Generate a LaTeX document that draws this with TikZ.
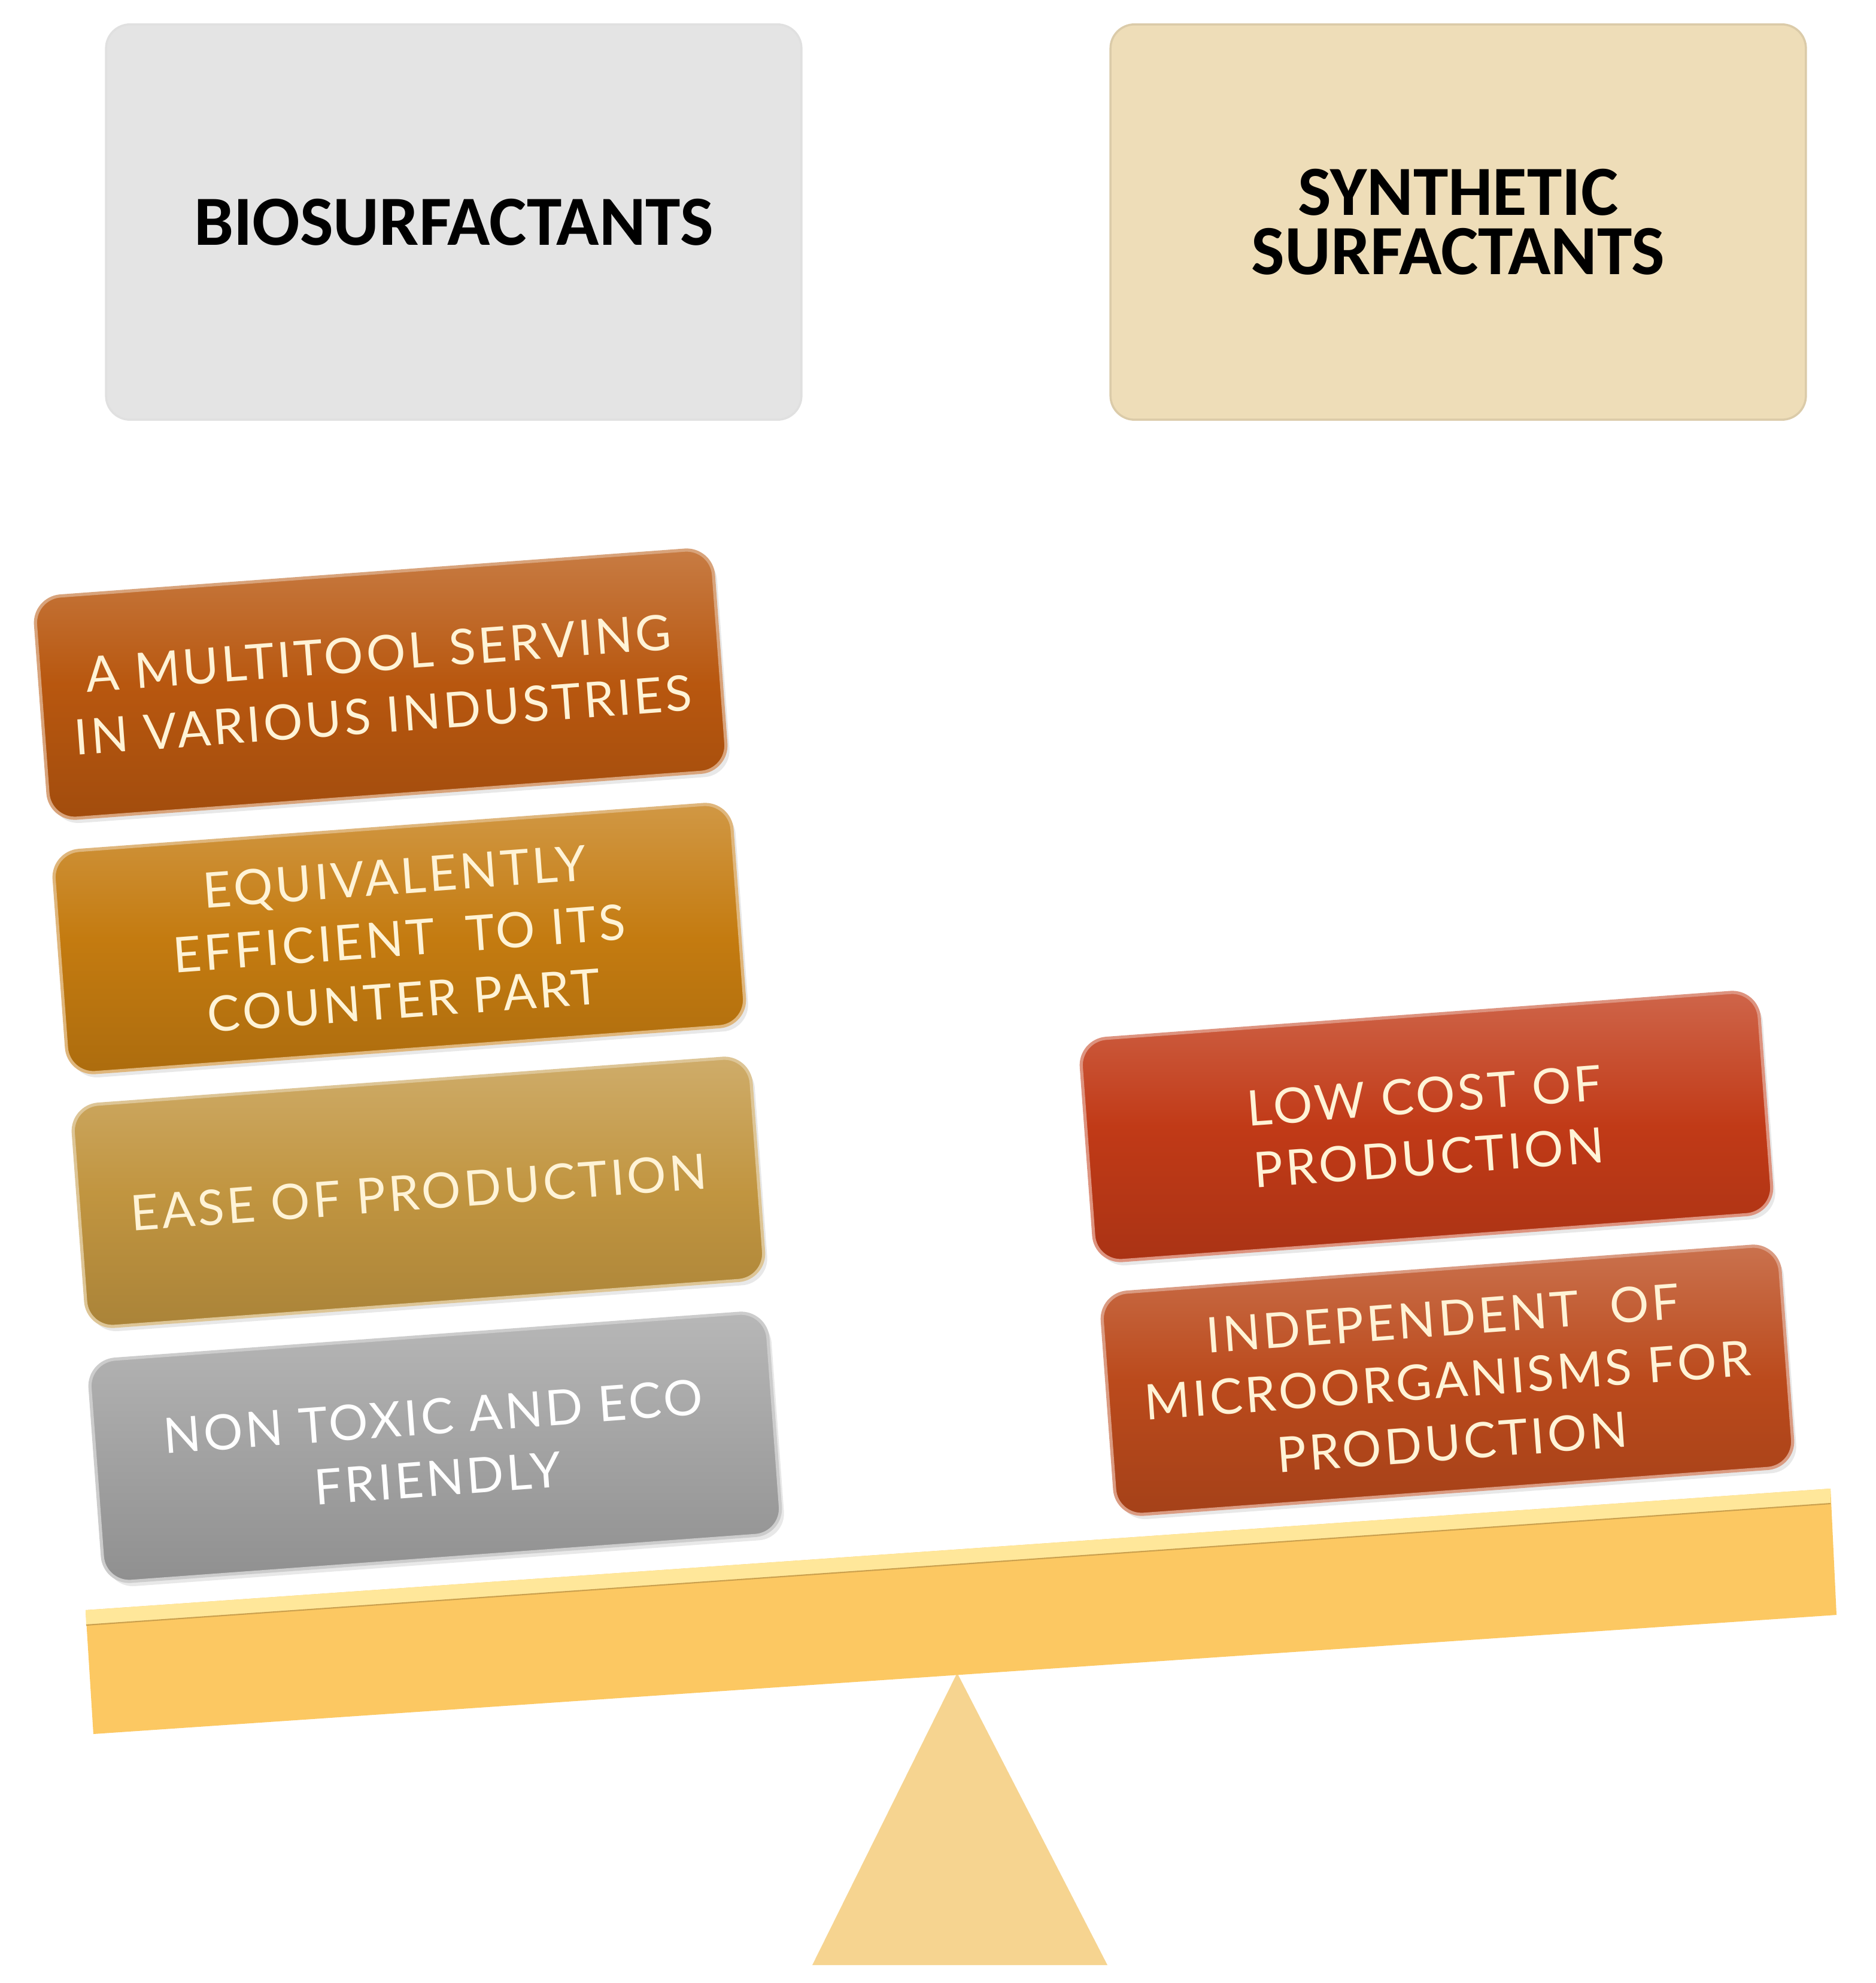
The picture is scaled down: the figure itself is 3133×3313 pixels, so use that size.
\documentclass[tikz,border=0pt]{standalone}
\usepackage{fontspec}
\setmainfont{Lato}
\newfontfamily\headfont{Carlito}
\newfontfamily\boxfont[LetterSpace=6]{Lato}
\usetikzlibrary{shadows}
\definecolor{hdL}{HTML}{E4E4E4}
\definecolor{hdR}{HTML}{EEDDB8}
\definecolor{cA}{HTML}{B8570F}
\definecolor{cB}{HTML}{C47B10}
\definecolor{cC}{HTML}{C19540}
\definecolor{cD}{HTML}{A3A3A3}
\definecolor{cE}{HTML}{C13A17}
\definecolor{cF}{HTML}{BB4A1C}
\definecolor{cream}{HTML}{FFF3D6}
\definecolor{beamc}{HTML}{FCC862}
\definecolor{beamhi}{HTML}{FFE79A}
\definecolor{tric}{HTML}{F6D490}
\begin{document}
\begin{tikzpicture}[x=0.01cm,y=-0.01cm,
  headbox/.style={rounded corners=0.4cm, draw=white!88!black, line width=1pt,
    minimum width=11.61cm, minimum height=6.6cm, align=center,
    font=\headfont\bfseries\fontsize{33.5}{28}\selectfont, text=black},
  pill/.style={rounded corners=0.45cm, minimum width=11.35cm, minimum height=3.72cm,
    align=center, rotate=4.2, line width=1.5pt,
    font=\boxfont\fontsize{23.3}{29.5}\selectfont, text=cream,
    drop shadow={opacity=0.18, shadow xshift=0.06cm, shadow yshift=-0.08cm}},
  pillcol/.style={pill, top color=#1!78!white, bottom color=#1!88!black,
    middle color=#1, draw=#1!55!white}
]
\useasboundingbox (0,0) rectangle (3133,3313);
\fill[white] (0,0) rectangle (3133,3313);

% header boxes
\node[headbox, fill=hdL] (bio) at (758,371) {BIOSURFACTANTS};
\node[headbox, fill=hdR, draw=hdR!92!black] (syn) at (2436,371) {SYNTHETIC\\SURFACTANTS};

% fulcrum and beam
\fill[tric] (1599,2795) -- (1850,3283) -- (1357,3283) -- cycle;
\fill[beamc] (143,2690) -- (3058,2487) -- (3068,2698) -- (156,2897) -- cycle;
\fill[beamhi] (143,2690) -- (3058,2487) -- (3058,2512) -- (144,2715) -- cycle;
\draw[beamc!80!black, line width=0.6pt] (144,2715) -- (3058,2512);

% left stack
\node[pillcol=cA] (b1) at (636,1143) {A MULTITOOL SERVING\\IN VARIOUS INDUSTRIES};
\node[pillcol=cB] (b2) at (667,1568) {EQUIVALENTLY\\EFFICIENT \ TO ITS\\COUNTER PART};
\node[pillcol=cC] (b3) at (699,1992) {EASE OF PRODUCTION};
\node[pillcol=cD, text=white] (b4) at (727,2418) {NON TOXIC AND ECO\\FRIENDLY};

% right stack
\node[pillcol=cE] (r1) at (2383,1882) {LOW COST OF\\PRODUCTION};
\node[pillcol=cF] (r2) at (2418,2306) {INDEPENDENT \ OF\\MICROORGANISMS FOR\\PRODUCTION};
\end{tikzpicture}
\end{document}
